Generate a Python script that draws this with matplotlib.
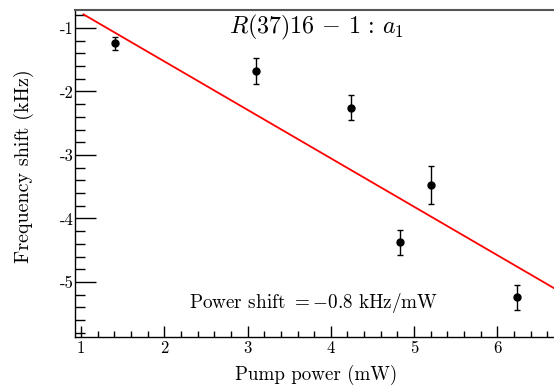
import matplotlib
matplotlib.use("Agg")
import matplotlib.pyplot as plt
import numpy as np
from matplotlib.ticker import FixedLocator, MultipleLocator, FixedFormatter

plt.rcParams['font.family'] = ['cmr10', 'DejaVu Serif']
plt.rcParams['mathtext.fontset'] = 'cm'
plt.rcParams['axes.unicode_minus'] = False
plt.rcParams['axes.formatter.use_mathtext'] = True

# data
power = [1.41, 3.10, 4.245, 4.825, 5.205, 6.24]
shift = [-1.24, -1.68, -2.255, -4.375, -3.47, -5.24]
shift_err = [0.10, 0.20, 0.20, 0.20, 0.30, 0.20]
fit_slope = -0.763
fit_intercept = 0.0
fit_x = [1.03, 7.0]
xticks = [1, 2, 3, 4, 5, 6]
xticklabels = ['1', '2', '3', '4', '5', '6']
yticks = [-1, -2, -3, -4, -5]
yticklabels = ['-1', '-2', '-3', '-4', '-5']

fig = plt.figure(figsize=(5.54, 3.85), dpi=100)
ax = fig.add_axes([75/554, 1-337/385, 1-75/554, (337-10)/385])

fx = np.array(fit_x)
ax.plot(fx, fit_intercept + fit_slope*fx, color='red', lw=1.3, zorder=2)
ax.errorbar(power, shift, yerr=shift_err, fmt='o', color='black', ms=5,
            elinewidth=1.0, capsize=2, capthick=1.0, zorder=3)

ax.set_xlim(0.928, 6.68)
ax.set_ylim(-5.866, -0.717)

ax.xaxis.set_major_locator(FixedLocator(xticks))
ax.xaxis.set_major_formatter(FixedFormatter(xticklabels))
ax.xaxis.set_minor_locator(MultipleLocator(0.2))
ax.yaxis.set_major_locator(FixedLocator(yticks))
ax.yaxis.set_major_formatter(FixedFormatter(yticklabels))
ax.yaxis.set_minor_locator(MultipleLocator(0.2))

ax.tick_params(axis='x', which='major', direction='in', length=8, width=1, labelsize=12, pad=3)
ax.tick_params(axis='x', which='minor', direction='in', length=4, width=1)
ax.tick_params(axis='y', which='major', direction='in', length=15, width=1, labelsize=12, pad=1)
ax.tick_params(axis='y', which='minor', direction='in', length=7.5, width=1)

ax.spines['right'].set_visible(False)
ax.spines['top'].set_color('#555555')
ax.spines['top'].set_linewidth(1.5)
ax.spines['left'].set_linewidth(1.0)
ax.spines['bottom'].set_linewidth(1.0)

ax.set_xlabel('Pump power (mW)', fontsize=13.7)
ax.xaxis.set_label_coords((316-75)/479, (337-380)/327)
ax.xaxis.label.set_va('baseline')
ax.set_ylabel('Frequency shift (kHz)', fontsize=14.5)
ax.yaxis.set_label_coords((24-75)/479, (337-166)/327)
ax.yaxis.label.set_va('center')

ax.text(316/554, 1-33/385, r'$R(37)16\,-\,1\,:\,a_1$', transform=fig.transFigure,
        ha='center', va='baseline', fontsize=17.3)
ax.text(314/554, 1-308/385, r'Power shift $=-0.8$ kHz/mW', transform=fig.transFigure,
        ha='center', va='baseline', fontsize=13.8)

fig.savefig('out.png', dpi=100)
